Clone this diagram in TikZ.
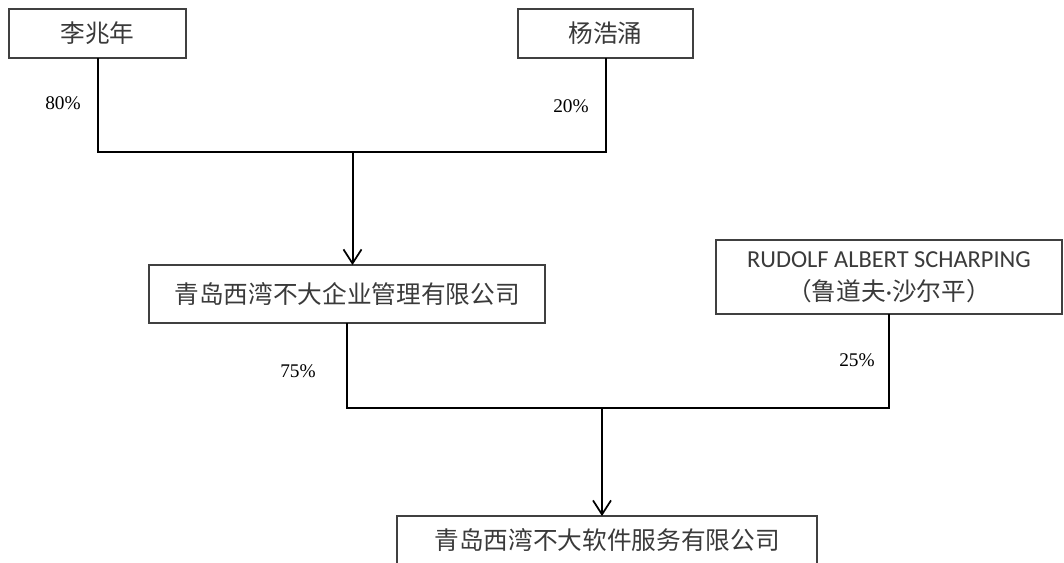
\documentclass[tikz,border=0pt]{standalone}
\usepackage{fontspec}
\setmainfont{Liberation Serif}
\newfontfamily\cjkfont{Noto Sans CJK SC}
\newfontfamily\calfont{Carlito}
\usetikzlibrary{arrows.meta}
\definecolor{txtgray}{HTML}{3A3A3A}
\definecolor{boxline}{HTML}{404040}
\tikzset{
  entity/.style={draw=boxline, line width=1pt, inner sep=0pt, outer sep=0pt, fill=white,
    font=\cjkfont\fontsize{18.5pt}{24.75pt}\selectfont, text=txtgray, align=center},
  conn/.style={line width=1.5pt, black},
  arr/.style={conn, -{Straight Barb[length=10.5pt,width=13.5pt,line width=1.3pt]}},
  pct/.style={font=\fontsize{14.5pt}{17pt}\selectfont, text=black, inner sep=0pt}
}
\begin{document}
\begin{tikzpicture}[x=0.75pt,y=-0.75pt]
\useasboundingbox (0,0) rectangle (1064,562);
\clip (0,0) rectangle (1064,562);
\node[entity, minimum width={177*0.75pt}, minimum height={49*0.75pt}] (b1) at (97.5,33.5) {李兆年};
\node[entity, minimum width={175*0.75pt}, minimum height={49*0.75pt}] (b2) at (605.5,33.5) {杨浩涌};
\node[entity, minimum width={396*0.75pt}, minimum height={58*0.75pt}] (b3) at (347,294) {青岛西湾不大企业管理有限公司};
\node[entity, minimum width={346*0.75pt}, minimum height={74*0.75pt}] (b4) at (889,277) {{\calfont\fontsize{18.3pt}{24.75pt}\selectfont RUDOLF ALBERT SCHARPING}\\（鲁道夫{\calfont ·}沙尔平）};
\node[entity, minimum width={420*0.75pt}, minimum height={48*0.75pt}] (b5) at (607,540) {青岛西湾不大软件服务有限公司};

\coordinate (j1) at (352.5,152);
\coordinate (j2) at (602,408);

\draw[conn] (b1.south) -- (b1.south |- j1) -- (b2.south |- j1) -- (b2.south);
\draw[arr] (j1) -- (b3.north -| j1);
\draw[conn] (b3.south) -- (b3.south |- j2) -- (b4.south |- j2) -- (b4.south);
\draw[arr] (j2) -- (b5.north -| j2);

\node[pct] (p80) at (63,103) {80\%};
\node[pct] (p20) at (571,106) {20\%};
\node[pct] (p75) at (298,371) {75\%};
\node[pct] (p25) at (857,360) {25\%};
\end{tikzpicture}
\end{document}
